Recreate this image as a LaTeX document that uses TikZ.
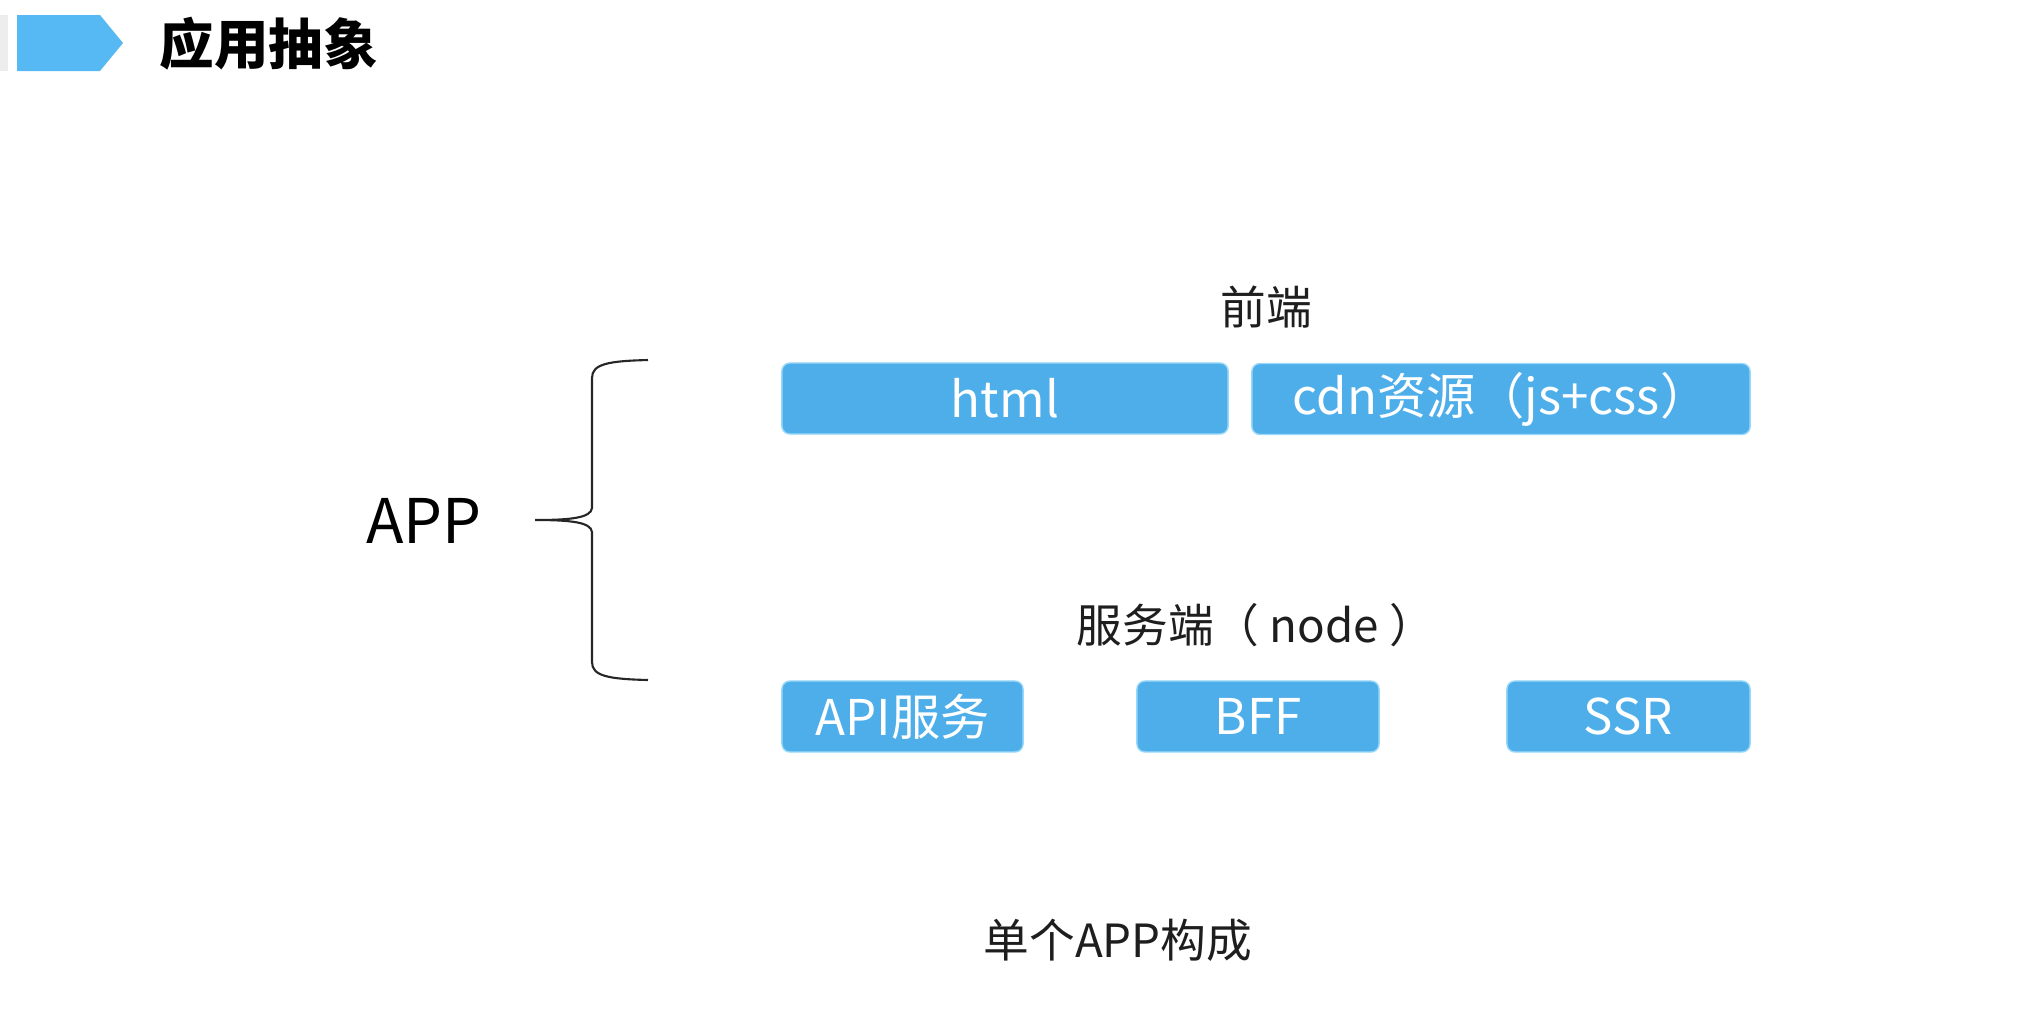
\documentclass[tikz,border=0pt]{standalone}
\usepackage{fontspec}
\setmainfont{Noto Sans CJK SC}
\usetikzlibrary{calc}
\definecolor{boxblue}{HTML}{4EAEEA}
\definecolor{headblue}{HTML}{56B9F4}
\definecolor{glowblue}{HTML}{9AD8F8}
\definecolor{labelgray}{HTML}{1E1E1E}
\tikzset{
  appbox/.style={fill=boxblue, draw=glowblue, line width=0.4pt, rounded corners=0.08cm,
    text=white, inner sep=0pt, minimum height=0.71cm,
    font=\fontsize{14pt}{17pt}\selectfont},
  grouplabel/.style={text=labelgray, inner sep=0pt, font=\fontsize{13pt}{15pt}\selectfont},
  bracket/.style={line width=0.6pt, color=black!85}
}

\begin{document}
\begin{tikzpicture}[x=0.01cm, y=-0.01cm]
			%%%%% START %%%%%
			\useasboundingbox (0, 0) rectangle (2026, 1026);
			
			% header
			\fill[black!7] (0, 15) rectangle (8, 71);
			\fill[headblue] (17, 15) -- (100, 15) -- (123, 43) -- (100, 71) -- (17, 71) -- cycle;
			\node[text=black, inner sep=0pt, font=\fontsize{15.5pt}{18pt}\selectfont\bfseries] (title) at (269, 44) {应用抽象};
			
			% front end
			\node[grouplabel] (feLabel) at (1266, 307) {前端};
			\node[appbox, minimum width=4.46cm] (html) at (1005, 398.5) {html};
			\node[appbox, minimum width=4.98cm] (cdn) at (1501, 399) {cdn资源（js+css）};
			
			% server side
			\node[grouplabel] (beLabel) at (1256, 625) {服务端（ node ）};
			\node[appbox, minimum width=2.41cm] (api) at (902.5, 716.5) {API服务};
			\node[appbox, minimum width=2.42cm] (bff) at (1258, 716.5) {BFF};
			\node[appbox, minimum width=2.43cm] (ssr) at (1628.5, 716.5) {SSR};
			
			% app and brace
			\node[text=black, inner sep=0pt, font=\fontsize{17.5pt}{20pt}\selectfont] (app) at (424, 521) {APP};
			\coordinate (braceTop) at (648, 360);
			\coordinate (braceTip) at (535, 520);
			\coordinate (braceBot) at (648, 680);
			\draw[bracket] (braceTop) .. controls (608, 361) and (592, 364) .. (592, 378)
			  -- (592, 508) .. controls (591, 518) and (570, 520) .. (braceTip)
			  .. controls (570, 520) and (591, 522) .. (592, 532)
			  -- (592, 662) .. controls (592, 676) and (608, 679) .. (braceBot);
			
			% caption
			\node[grouplabel] (caption) at (1118, 940) {单个APP构成};
			%%%%% END %%%%%
\end{tikzpicture}
\end{document}
